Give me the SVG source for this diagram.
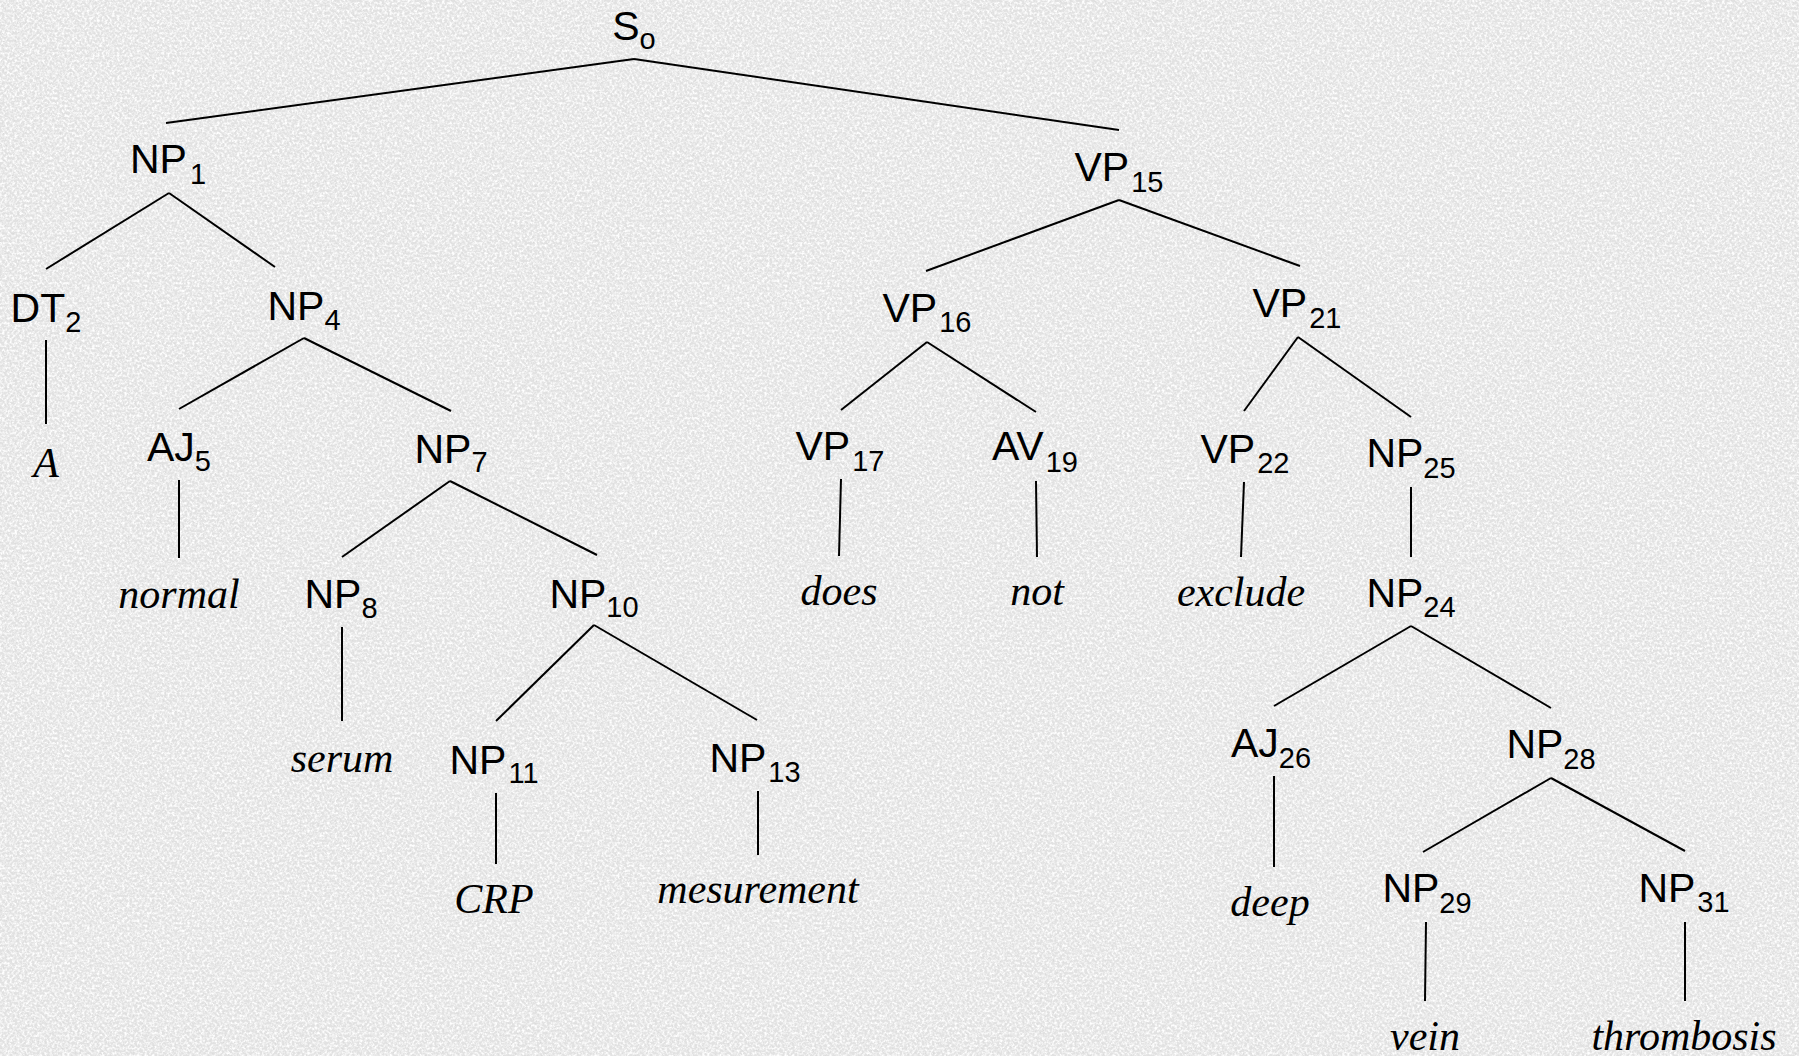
<svg xmlns="http://www.w3.org/2000/svg" width="1799" height="1056" viewBox="0 0 1799 1056">
<style>
.lbl{font-family:"Liberation Sans",Arial,sans-serif;font-size:41px;fill:#000;text-anchor:middle}
.sub{font-size:29px}
.word{font-family:"Liberation Serif","Times New Roman",serif;font-style:italic;font-size:42px;fill:#000;text-anchor:middle}
.edges line{stroke:#000;stroke-width:2;fill:none}
</style>
<defs>
<filter id="paper" x="0" y="0" width="100%" height="100%">
<feTurbulence type="fractalNoise" baseFrequency="0.4" numOctaves="3" seed="7" result="n"/>
<feColorMatrix in="n" type="matrix" values="0 0 0 0 1  0 0 0 0 1  0 0 0 0 1  2.6 0 0 0 -1.0"/>
</filter>
<filter id="flecks" x="0" y="0" width="100%" height="100%">
<feTurbulence type="fractalNoise" baseFrequency="0.6" numOctaves="2" seed="3" result="m"/>
<feColorMatrix in="m" type="matrix" values="0 0 0 0 0.55  0 0 0 0 0.55  0 0 0 0 0.55  -2.4 0 0 0 0.95"/>
</filter>
</defs>
<rect x="0" y="0" width="1799" height="1056" fill="#e2e2e2"/>
<rect x="0" y="0" width="1799" height="1056" filter="url(#flecks)" opacity="0.5"/>
<rect x="0" y="0" width="1799" height="1056" filter="url(#paper)"/>
<g class="edges" id="connectors">
<line x1="634" y1="59" x2="166" y2="123"/>
<line x1="634" y1="59" x2="1119" y2="130"/>
<line x1="169" y1="193" x2="46" y2="269"/>
<line x1="169" y1="193" x2="275" y2="267"/>
<line x1="46" y1="340" x2="46" y2="424"/>
<line x1="304" y1="338" x2="179" y2="409"/>
<line x1="304" y1="338" x2="451" y2="411"/>
<line x1="179" y1="480" x2="179" y2="558"/>
<line x1="450" y1="481" x2="342" y2="557"/>
<line x1="450" y1="481" x2="597" y2="555"/>
<line x1="342" y1="627" x2="342" y2="721"/>
<line x1="594" y1="625" x2="496" y2="721"/>
<line x1="594" y1="625" x2="757" y2="720"/>
<line x1="496" y1="793" x2="496" y2="864"/>
<line x1="758" y1="791" x2="758" y2="855"/>
<line x1="1119" y1="200" x2="926" y2="271"/>
<line x1="1119" y1="200" x2="1300" y2="266"/>
<line x1="927" y1="342" x2="841" y2="410"/>
<line x1="927" y1="342" x2="1036" y2="412"/>
<line x1="841" y1="479" x2="839" y2="556"/>
<line x1="1036" y1="481" x2="1037" y2="557"/>
<line x1="1298" y1="337" x2="1244" y2="411"/>
<line x1="1298" y1="337" x2="1411" y2="417"/>
<line x1="1244" y1="482" x2="1241" y2="557"/>
<line x1="1411" y1="487" x2="1411" y2="557"/>
<line x1="1411" y1="626" x2="1274" y2="706"/>
<line x1="1411" y1="626" x2="1551" y2="708"/>
<line x1="1274" y1="776" x2="1274" y2="867"/>
<line x1="1551" y1="778" x2="1423" y2="852"/>
<line x1="1551" y1="778" x2="1685" y2="851"/>
<line x1="1426" y1="922" x2="1425" y2="1001"/>
<line x1="1685" y1="922" x2="1685" y2="1001"/>
</g>
<g id="n-S0"><text class="lbl" x="634" y="40">S<tspan class="sub" dy="9">o</tspan></text></g>
<g id="n-NP1"><text class="lbl" x="168" y="173">NP<tspan class="sub" dx="3" dy="11">1</tspan></text></g>
<g id="n-DT2"><text class="lbl" x="46" y="322">DT<tspan class="sub" dy="10">2</tspan></text></g>
<g id="n-NP4"><text class="lbl" x="304" y="320">NP<tspan class="sub" dy="10">4</tspan></text></g>
<g id="w-A"><text class="word" x="46" y="477">A</text></g>
<g id="n-AJ5"><text class="lbl" x="179" y="461">AJ<tspan class="sub" dy="10">5</tspan></text></g>
<g id="n-NP7"><text class="lbl" x="451" y="463">NP<tspan class="sub" dy="9">7</tspan></text></g>
<g id="w-normal"><text class="word" x="179" y="608">normal</text></g>
<g id="n-NP8"><text class="lbl" x="341" y="608">NP<tspan class="sub" dy="10">8</tspan></text></g>
<g id="n-NP10"><text class="lbl" x="594" y="608">NP<tspan class="sub" dy="9">10</tspan></text></g>
<g id="w-serum"><text class="word" x="342" y="772">serum</text></g>
<g id="n-NP11"><text class="lbl" x="494" y="774">NP<tspan class="sub" dx="2" dy="9">11</tspan></text></g>
<g id="n-NP13"><text class="lbl" x="755" y="772">NP<tspan class="sub" dx="2" dy="10">13</tspan></text></g>
<g id="w-CRP"><text class="word" x="494" y="913">CRP</text></g>
<g id="w-mesurement"><text class="word" x="758" y="903">mesurement</text></g>
<g id="n-VP15"><text class="lbl" x="1119" y="181">VP<tspan class="sub" dx="2" dy="11">15</tspan></text></g>
<g id="n-VP16"><text class="lbl" x="927" y="322">VP<tspan class="sub" dx="2" dy="10">16</tspan></text></g>
<g id="n-VP21"><text class="lbl" x="1297" y="317">VP<tspan class="sub" dx="2" dy="11">21</tspan></text></g>
<g id="n-VP17"><text class="lbl" x="840" y="460">VP<tspan class="sub" dx="2" dy="11">17</tspan></text></g>
<g id="n-AV19"><text class="lbl" x="1035" y="460">AV<tspan class="sub" dx="2" dy="12">19</tspan></text></g>
<g id="w-does"><text class="word" x="839" y="605">does</text></g>
<g id="w-not"><text class="word" x="1037" y="605">not</text></g>
<g id="n-VP22"><text class="lbl" x="1245" y="463">VP<tspan class="sub" dx="2" dy="10">22</tspan></text></g>
<g id="n-NP25"><text class="lbl" x="1411" y="467">NP<tspan class="sub" dy="11">25</tspan></text></g>
<g id="w-exclude"><text class="word" x="1241" y="606">exclude</text></g>
<g id="n-NP24"><text class="lbl" x="1411" y="607">NP<tspan class="sub" dy="10">24</tspan></text></g>
<g id="n-AJ26"><text class="lbl" x="1271" y="757">AJ<tspan class="sub" dy="11">26</tspan></text></g>
<g id="n-NP28"><text class="lbl" x="1551" y="758">NP<tspan class="sub" dy="11">28</tspan></text></g>
<g id="w-deep"><text class="word" x="1270" y="916">deep</text></g>
<g id="n-NP29"><text class="lbl" x="1427" y="902">NP<tspan class="sub" dy="11">29</tspan></text></g>
<g id="n-NP31"><text class="lbl" x="1684" y="902">NP<tspan class="sub" dx="2" dy="10">31</tspan></text></g>
<g id="w-vein"><text class="word" x="1425" y="1050">vein</text></g>
<g id="w-thrombosis"><text class="word" x="1684" y="1050">thrombosis</text></g>
</svg>
